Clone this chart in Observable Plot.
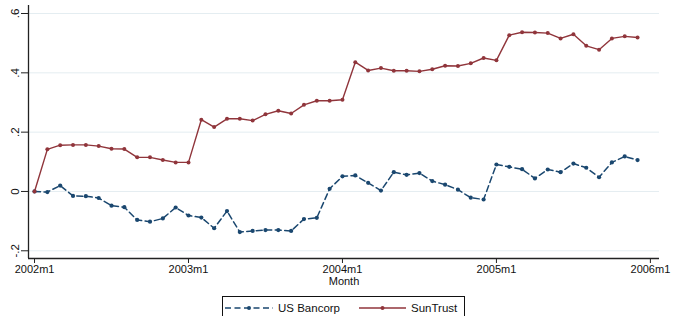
<!DOCTYPE html>
<html>
<head>
<meta charset="utf-8">
<script src="https://cdn.jsdelivr.net/npm/d3@7"></script>
<script src="https://cdn.jsdelivr.net/npm/@observablehq/plot@0.6"></script>
<style>
  html, body { margin: 0; padding: 0; background: #fff; }
  #wrap { position: relative; width: 673px; height: 316px; overflow: hidden; font-family: "Liberation Sans", Arial, Helvetica, sans-serif; }
  #legend { position: absolute; left: 222px; top: 296px; width: 243px; height: 26px; border: 1px solid #111; box-sizing: border-box; font-size: 11.5px; color: #111; }
  #legend .item { position: absolute; top: 4px; height: 14px; line-height: 14px; white-space: nowrap; }
  #legend svg { position: absolute; top: 0; }
</style>
</head>
<body>
<div id="wrap"><div id="chart"></div><div id="legend"></div></div>
<script>
// Monthly values, 2002m1 .. 2005m12
const usBancorp = [
  0.000, -0.002, 0.020, -0.015, -0.016, -0.022, -0.048, -0.053, -0.096, -0.102, -0.091, -0.054,
  -0.081, -0.088, -0.124, -0.066, -0.137, -0.133, -0.130, -0.130, -0.133, -0.093, -0.089, 0.009,
  0.051, 0.054, 0.029, 0.003, 0.065, 0.056, 0.062, 0.035, 0.023, 0.006, -0.021, -0.027,
  0.091, 0.083, 0.075, 0.044, 0.074, 0.065, 0.094, 0.080, 0.048, 0.098, 0.118, 0.106
];
const sunTrust = [
  0.000, 0.142, 0.156, 0.157, 0.157, 0.153, 0.144, 0.143, 0.115, 0.115, 0.106, 0.098,
  0.098, 0.242, 0.217, 0.245, 0.245, 0.239, 0.260, 0.272, 0.263, 0.292, 0.306, 0.306,
  0.309, 0.436, 0.408, 0.416, 0.407, 0.407, 0.405, 0.412, 0.424, 0.423, 0.432, 0.450,
  0.442, 0.527, 0.537, 0.536, 0.534, 0.516, 0.530, 0.491, 0.478, 0.516, 0.523, 0.519
];
const seriesNames = ["US Bancorp", "SunTrust"];
const seriesColors = ["#1a476f", "#90353b"];
const xTickPos = [0, 12, 24, 36, 48];
const xTickLabels = ["2002m1", "2003m1", "2004m1", "2005m1", "2006m1"];
const yTicks = [-0.2, 0, 0.2, 0.4, 0.6];
const yTickLabels = ["-.2", "0", ".2", ".4", ".6"];
const xLabel = "Month";

const xDomain = [-0.47, 48.71];
const yDomain = [-0.226, 0.627];

const rows = (vals, name) => vals.map((v, i) => ({month: i, value: v, series: name}));
const us = rows(usBancorp, seriesNames[0]);
const st = rows(sunTrust, seriesNames[1]);

const chart = Plot.plot({
  width: 673,
  height: 290,
  marginLeft: 28,
  marginRight: 14,
  marginTop: 5,
  marginBottom: 32,
  style: { fontFamily: "'Liberation Sans', Arial, Helvetica, sans-serif", fontSize: "11px", background: "#fff", color: "#111", overflow: "visible" },
  x: { domain: xDomain },
  y: { domain: yDomain },
  marks: [
    Plot.gridY(yTicks, { stroke: "#e4edf1", strokeOpacity: 1, strokeWidth: 1 }),
    Plot.axisY({ ticks: yTicks, tickFormat: d => yTickLabels[yTicks.indexOf(d)], tickRotate: -90, tickSize: 7, label: null, stroke: "#222", fontSize: 11.5 }),
    Plot.axisX({ ticks: xTickPos, tickFormat: d => xTickLabels[xTickPos.indexOf(d)], tickSize: 5, tickPadding: 2, label: null, stroke: "#222", fontSize: 11 }),
    Plot.ruleX([xDomain[0]], { stroke: "#222", strokeWidth: 1.3 }),
    Plot.ruleY([yDomain[0]], { stroke: "#222", strokeWidth: 1.3 }),
    Plot.text([xLabel], { frameAnchor: "bottom", dy: 26, text: d => d, fontSize: 11 }),
    Plot.line(us, { x: "month", y: "value", stroke: seriesColors[0], strokeWidth: 1.5, strokeDasharray: "6,3.5" }),
    Plot.dot(us, { x: "month", y: "value", r: 2.1, fill: seriesColors[0], stroke: null }),
    Plot.line(st, { x: "month", y: "value", stroke: seriesColors[1], strokeWidth: 1.4 }),
    Plot.dot(st, { x: "month", y: "value", r: 2.0, fill: seriesColors[1], stroke: null })
  ]
});
document.getElementById("chart").appendChild(chart);

// Legend
const legend = document.getElementById("legend");
const items = [
  { name: seriesNames[0], color: seriesColors[0], dash: "6,3.5", swX: 2, swW: 48, txX: 55 },
  { name: seriesNames[1], color: seriesColors[1], dash: null, swX: 136, swW: 47, txX: 188 }
];
for (const it of items) {
  const ns = "http://www.w3.org/2000/svg";
  const svg = document.createElementNS(ns, "svg");
  svg.setAttribute("width", it.swW);
  svg.setAttribute("height", 22);
  svg.style.left = it.swX + "px";
  const line = document.createElementNS(ns, "line");
  line.setAttribute("x1", 0); line.setAttribute("x2", it.swW);
  line.setAttribute("y1", 11); line.setAttribute("y2", 11);
  line.setAttribute("stroke", it.color);
  line.setAttribute("stroke-width", 1.5);
  if (it.dash) line.setAttribute("stroke-dasharray", it.dash);
  svg.appendChild(line);
  const c = document.createElementNS(ns, "circle");
  c.setAttribute("cx", it.swW / 2); c.setAttribute("cy", 11); c.setAttribute("r", 2);
  c.setAttribute("fill", it.color);
  svg.appendChild(c);
  legend.appendChild(svg);
  const t = document.createElement("div");
  t.className = "item";
  t.style.left = it.txX + "px";
  t.textContent = it.name;
  legend.appendChild(t);
}
</script>
</body>
</html>
